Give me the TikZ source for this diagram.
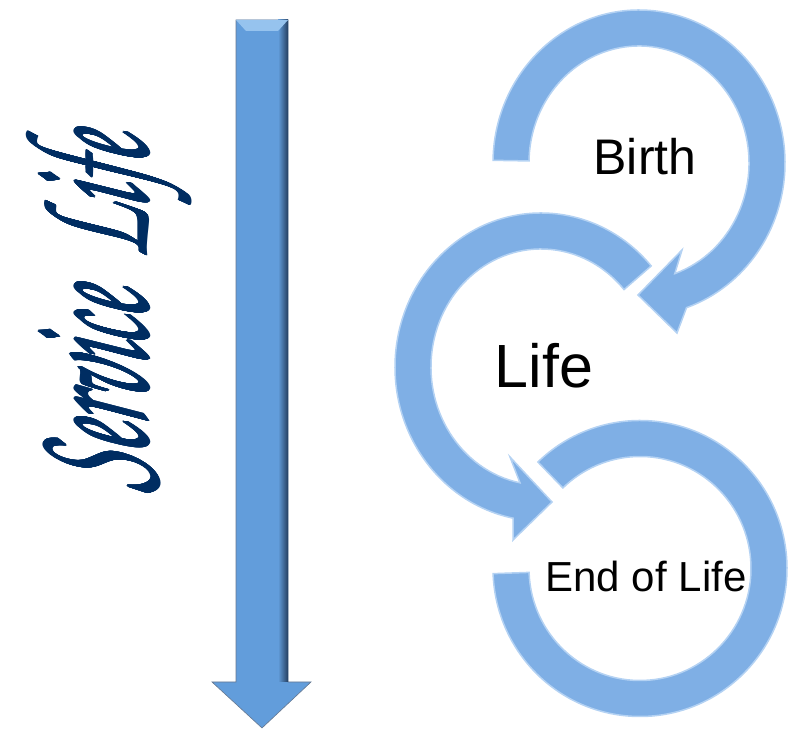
\documentclass[tikz,border=0pt]{standalone}
\usepackage[T1]{fontenc}
\usepackage{fontspec}
\setmainfont{Liberation Sans}
\usepackage{xcolor}
\usepackage{tikz}
\usepackage{contour}
\contourlength{0.3pt}
\definecolor{ringblue}{RGB}{127,175,229}
\definecolor{ringrim}{RGB}{180,210,243}
\definecolor{shaftblue}{RGB}{98,157,219}
\definecolor{shaftlight}{RGB}{150,195,238}
\definecolor{shaftdark}{RGB}{36,62,96}
\definecolor{scriptnavy}{RGB}{0,45,98}
\newcommand{\chancery}{\fontencoding{T1}\fontfamily{pzc}\fontseries{mb}\fontshape{it}\selectfont}

\begin{document}
\begin{tikzpicture}[
			     x=1pt, y=1pt,
			     ring/.style={fill=ringblue, draw=ringrim, line width=1.5pt},
			     shaft/.style={fill=shaftblue, draw=shaftdark!70, line width=0.6pt},
			     stage/.style={inner sep=0pt, anchor=base, text=black}
			     ]
\useasboundingbox (0,0) rectangle (788,730);
% time line
\fill[shaft] (236,710) -- (288,710) -- (288,48) -- (311,48) -- (262,2) -- (212,48) -- (236,48) -- cycle;
\fill[left color=shaftblue, right color=shaftdark] (278,48) rectangle (288,710);
\fill[shaftlight] (236,710) -- (288,710) -- (278,699) -- (246,699) -- cycle;
\node[rotate=90, xscale=0.78, yscale=1.7, xslant=0.3, text=scriptnavy, inner sep=0pt] (service) at (112,419) {\chancery\fontsize{104}{120}\selectfont\contour{scriptnavy}{Service\ \ Life}};
% birth
\begin{scope}[shift={(639,567)}]
\path[ring] (179:146pt and 153pt) arc[start angle=179, end angle=-71, x radius=146pt, y radius=153pt] -- (38,-170) -- (-1,-132) -- (43,-87) -- (-71:110pt and 117pt) arc[start angle=-71, end angle=179, x radius=110pt, y radius=117pt] -- cycle;
\end{scope}
% life
\begin{scope}[shift={(541,363)}]
\path[ring] (41:146pt and 154pt) arc[start angle=41, end angle=259, x radius=146pt, y radius=154pt] -- (-28,-173) -- (11,-135) -- (-31,-90) -- (259:110pt and 118pt) arc[start angle=259, end angle=41, x radius=110pt, y radius=118pt] -- cycle;
\end{scope}
% end of life
\begin{scope}[shift={(640,161.5)}]
\path[ring] (134:147pt and 148pt) arc[start angle=134, end angle=-178, x radius=147pt, y radius=148pt] -- (-178:111pt and 112pt) arc[start angle=-178, end angle=134, x radius=111pt, y radius=112pt] -- cycle;
\end{scope}
\node[stage, font=\fontsize{50}{60}\selectfont] (birth) at (645,555) {Birth};
\node[stage, font=\fontsize{61}{72}\selectfont] (life) at (544,342) {Life};
\node[stage, font=\fontsize{42}{50}\selectfont] (eol) at (646,138) {End of Life};
\end{tikzpicture}
\end{document}
